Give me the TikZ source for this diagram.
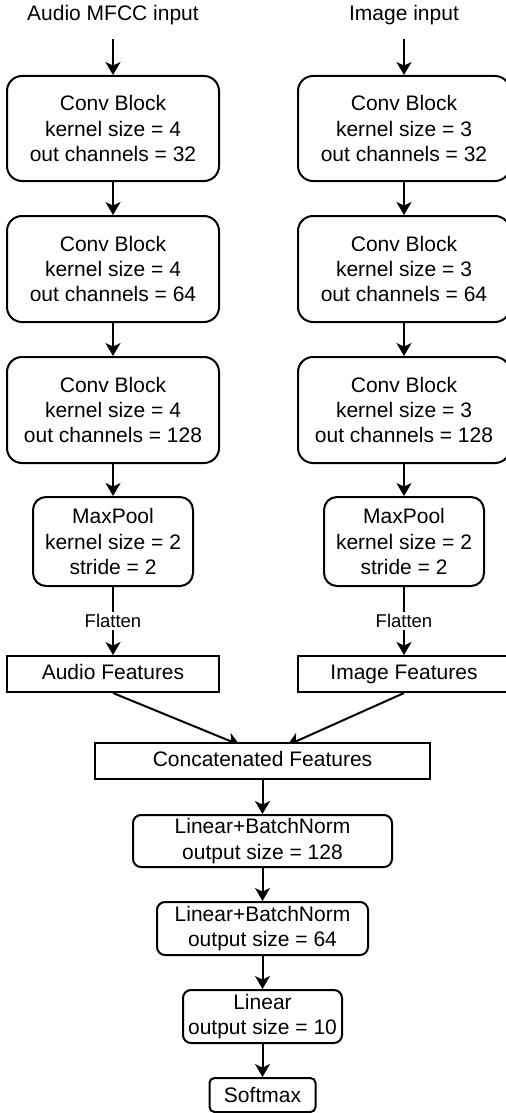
\documentclass[tikz,border=0pt]{standalone}
\usepackage{fontspec}
\setmainfont{Liberation Sans}
\usetikzlibrary{arrows.meta}

\pgfdeclarelayer{back}
\pgfsetlayers{back,main}

\tikzset{
  txt/.style={font=\fontsize{10.5}{12.6}\selectfont, align=center, inner sep=1pt},
  blk/.style n args={3}{txt, draw, fill=white, line width=1pt, minimum width=#1, minimum height=#2, rounded corners=#3},
  feat/.style n args={2}{txt, draw, fill=white, line width=1pt, minimum width=#1, minimum height=#2, text height=7.8pt, text depth=2.2pt},
  arr/.style={line width=1pt, -{Stealth[length=6.5pt,width=7.5pt,inset=1.8pt]}},
  flat/.style={font=\fontsize{9.25}{11}\selectfont, fill=white, inner sep=1pt},
}

\begin{document}
\begin{tikzpicture}[x=0.5pt,y=-0.5pt]
\useasboundingbox (0,0) rectangle (506,1113);

%Audio Branch
\node[txt] (ain) at (113,15) {Audio MFCC input};
\node[blk={106pt}{52.5pt}{7.5pt}] (ac1) at (113,128.5) {Conv Block\\kernel size = 4\\out channels = 32};
\node[blk={106pt}{53pt}{7.5pt}] (ac2) at (113,269) {Conv Block\\kernel size = 4\\out channels = 64};
\node[blk={106pt}{53pt}{7.5pt}] (ac3) at (113,410) {Conv Block\\kernel size = 4\\out channels = 128};
\node[blk={80pt}{44.5pt}{6.5pt}] (amp) at (113,541.5) {MaxPool\\kernel size = 2\\stride = 2};
\node[feat={106pt}{18pt}] (af) at (113,674) {Audio Features};

%Image Branch
\node[txt] (iin) at (404,15) {Image input};
\node[blk={106pt}{52.5pt}{7.5pt}] (ic1) at (404,128.5) {Conv Block\\kernel size = 3\\out channels = 32};
\node[blk={106pt}{53pt}{7.5pt}] (ic2) at (404,269) {Conv Block\\kernel size = 3\\out channels = 64};
\node[blk={106pt}{53pt}{7.5pt}] (ic3) at (404,410) {Conv Block\\kernel size = 3\\out channels = 128};
\node[blk={80pt}{44.5pt}{6.5pt}] (imp) at (404,541.5) {MaxPool\\kernel size = 2\\stride = 2};
\node[feat={106pt}{18pt}] (iff) at (404,674) {Image Features};

%Fusion Head
\node[feat={167.5pt}{18pt}] (cat) at (262.5,761) {Concatenated Features};
\node[blk={129.5pt}{26pt}{4pt}] (lin1) at (262.5,841) {Linear+BatchNorm\\output size = 128};
\node[blk={105.5pt}{26.5pt}{4pt}] (lin2) at (262.5,928.5) {Linear+BatchNorm\\output size = 64};
\node[blk={79.5pt}{26.5pt}{4pt}] (lin3) at (262.5,1016.5) {Linear\\output size = 10};
\node[blk={53pt}{17pt}{2.5pt}] (sm) at (262.5,1095) {Softmax};

%Arrows
\draw[arr, shorten <=6pt] (ain.south) -- (ac1.north);
\draw[arr] (ac1) -- (ac2);
\draw[arr] (ac2) -- (ac3);
\draw[arr] (ac3) -- (amp);
\draw[arr] (amp) -- node[flat] {Flatten} (af);

\draw[arr, shorten <=6pt] (iin.south) -- (ic1.north);
\draw[arr] (ic1) -- (ic2);
\draw[arr] (ic2) -- (ic3);
\draw[arr] (ic3) -- (imp);
\draw[arr] (imp) -- node[flat] {Flatten} (iff);

\begin{pgfonlayer}{back}
\draw[arr, shorten >=-4pt] (af.south) -- ([xshift=-15pt]cat.north);
\draw[arr, shorten >=-4pt] (iff.south) -- ([xshift=16pt]cat.north);
\end{pgfonlayer}

\draw[arr] (cat) -- (lin1);
\draw[arr] (lin1) -- (lin2);
\draw[arr] (lin2) -- (lin3);
\draw[arr] (lin3) -- (sm);
\end{tikzpicture}
\end{document}
